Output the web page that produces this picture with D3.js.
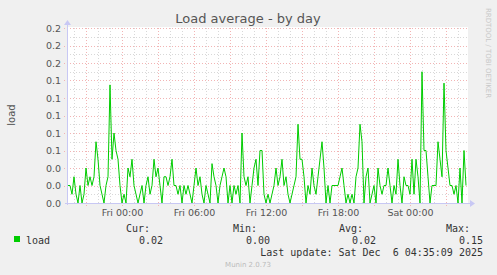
<!DOCTYPE html>
<html>
<head>
<meta charset="utf-8">
<script src="https://cdn.jsdelivr.net/npm/d3@7"></script>
<style>
  body { margin: 0; background: #f0f0f0; }
  svg { display: block; }
  .tick text { font-family: "DejaVu Sans", sans-serif; fill: #555; }
  .mono { font-family: "DejaVu Sans Mono", monospace; font-size: 10px; fill: #333; }
</style>
</head>
<body>
<div id="chart"></div>
<script>
// load average samples, every 10 minutes from Thu 19:30
var startTime = new Date(2025, 11, 4, 19, 30);
var stepMinutes = 10;
var loadValues = [
  0.02, 0.02, 0.01, 0.03, 0.01, 0.00, 0.02, 0.00, 0.01, 0.04,
  0.02, 0.03, 0.02, 0.03, 0.07, 0.05, 0.02, 0.01, 0.00, 0.02,
  0.03, 0.135, 0.05, 0.08, 0.06, 0.05, 0.02, 0.00, 0.01, 0.00,
  0.04, 0.03, 0.05, 0.02, 0.01, 0.00, 0.01, 0.02, 0.00, 0.02,
  0.03, 0.01, 0.02, 0.05, 0.03, 0.04, 0.02, 0.00, 0.03, 0.03,
  0.02, 0.03, 0.05, 0.02, 0.02, 0.01, 0.02, 0.00, 0.02, 0.01,
  0.02, 0.01, 0.00, 0.02, 0.04, 0.02, 0.03, 0.01, 0.00, 0.02,
  0.01, 0.00, 0.045, 0.03, 0.02, 0.00, 0.02, 0.03, 0.04, 0.03,
  0.00, 0.02, 0.00, 0.02, 0.01, 0.02, 0.00, 0.08, 0.03, 0.02,
  0.03, 0.00, 0.02, 0.04, 0.05, 0.02, 0.06, 0.06, 0.01, 0.00,
  0.01, 0.00, 0.01, 0.02, 0.04, 0.02, 0.03, 0.05, 0.02, 0.03,
  0.01, 0.00, 0.01, 0.02, 0.03, 0.09, 0.05, 0.05, 0.03, 0.00,
  0.02, 0.01, 0.04, 0.02, 0.01, 0.03, 0.05, 0.07, 0.04, 0.00,
  0.02, 0.00, 0.02, 0.02, 0.02, 0.02, 0.03, 0.04, 0.02, 0.00,
  0.01, 0.00, 0.01, 0.00, 0.03, 0.04, 0.09, 0.07, 0.00, 0.03,
  0.04, 0.00, 0.01, 0.02, 0.00, 0.04, 0.02, 0.01, 0.02, 0.02,
  0.04, 0.02, 0.00, 0.02, 0.01, 0.05, 0.02, 0.00, 0.03, 0.02,
  0.02, 0.01, 0.05, 0.01, 0.05, 0.03, 0.00, 0.15, 0.06, 0.06,
  0.03, 0.00, 0.02, 0.02, 0.02, 0.07, 0.05, 0.03, 0.137, 0.06,
  0.04, 0.02, 0.02, 0.01, 0.02, 0.00, 0.04, 0.00, 0.06, 0.02
];
var viewStart = new Date(2025, 11, 4, 19, 25);
var viewEnd = new Date(2025, 11, 6, 4, 45);
var yMax = 0.2;
var xTickTimes = [
  new Date(2025, 11, 5, 0, 0), new Date(2025, 11, 5, 6, 0),
  new Date(2025, 11, 5, 12, 0), new Date(2025, 11, 5, 18, 0),
  new Date(2025, 11, 6, 0, 0)
];
var legendNames = ["Cur:", "Min:", "Avg:", "Max:"];
var legendValues = ["0.02", "0.00", "0.02", "0.15"];
var lastUpdate = "Last update: Sat Dec  6 04:35:09 2025";

var width = 497, height = 275;
var plotL = 67, plotR = 467, plotT = 28, plotB = 203;

var data = loadValues.map(function (v, i) {
  return { t: new Date(startTime.getTime() + i * stepMinutes * 60000), v: v };
});

var svg = d3.select("#chart").append("svg")
  .attr("width", width).attr("height", height);

var x = d3.scaleTime().domain([viewStart, viewEnd]).range([plotL, plotR]);
var y = d3.scaleLinear().domain([0, yMax]).range([plotB, plotT]);

// canvas
svg.append("rect")
  .attr("x", plotL).attr("y", plotT - 1)
  .attr("width", plotR - plotL + 1).attr("height", plotB - plotT + 1)
  .attr("fill", "#fff");

// minor grid
var minorY = d3.range(0.01, yMax, 0.02);
var minorX = d3.timeHour.range(viewStart, viewEnd).filter(function (d) {
  return d.getHours() % 3 !== 0;
});
var grid = svg.append("g").attr("shape-rendering", "crispEdges");
grid.selectAll(".hminor").data(minorY).enter().append("line")
  .attr("x1", plotL).attr("x2", plotR + 1)
  .attr("y1", function (d) { return Math.round(y(d)) + 0.5; })
  .attr("y2", function (d) { return Math.round(y(d)) + 0.5; })
  .attr("stroke", "#d8d8d8").attr("stroke-dasharray", "1,2");
grid.selectAll(".vminor").data(minorX).enter().append("line")
  .attr("y1", plotT).attr("y2", plotB)
  .attr("x1", function (d) { return Math.round(x(d)) + 0.5; })
  .attr("x2", function (d) { return Math.round(x(d)) + 0.5; })
  .attr("stroke", "#d8d8d8").attr("stroke-dasharray", "1,2");

// major grid
var majorY = d3.range(0, yMax + 0.001, 0.02);
var majorX = d3.timeHour.range(viewStart, viewEnd).filter(function (d) {
  return d.getHours() % 3 === 0;
});
grid.selectAll(".hmajor").data(majorY.slice(1)).enter().append("line")
  .attr("x1", plotL - 3).attr("x2", plotR + 1)
  .attr("y1", function (d) { return Math.round(y(d)) + 0.5; })
  .attr("y2", function (d) { return Math.round(y(d)) + 0.5; })
  .attr("stroke", "#f2b4b4").attr("stroke-dasharray", "1,2");
grid.selectAll(".vmajor").data(majorX).enter().append("line")
  .attr("y1", plotT).attr("y2", plotB + 3)
  .attr("x1", function (d) { return Math.round(x(d)) + 0.5; })
  .attr("x2", function (d) { return Math.round(x(d)) + 0.5; })
  .attr("stroke", "#f2b4b4").attr("stroke-dasharray", "1,2");

// axes labels
var yAxis = d3.axisLeft(y).tickValues(majorY).tickFormat(d3.format(".1f"))
  .tickSize(0).tickPadding(6);
var gy = svg.append("g").attr("transform", "translate(" + plotL + ",0)").call(yAxis);
gy.select(".domain").remove();
gy.selectAll("text").attr("font-size", "9.5px").attr("fill", "#555");

var xAxis = d3.axisBottom(x).tickValues(xTickTimes)
  .tickFormat(d3.timeFormat("%a %H:%M")).tickSize(0).tickPadding(6);
var gx = svg.append("g").attr("transform", "translate(0," + plotB + ")").call(xAxis);
gx.select(".domain").remove();
gx.selectAll("text").attr("font-size", "9.5px").attr("fill", "#555");

// axis lines and arrows
var axisColor = "#c8c8f4";
svg.append("line").attr("x1", plotL - 2).attr("x2", plotR + 4)
  .attr("y1", plotB + 0.5).attr("y2", plotB + 0.5)
  .attr("stroke", axisColor);
svg.append("line").attr("x1", plotL + 0.5).attr("x2", plotL + 0.5)
  .attr("y1", plotB + 2).attr("y2", plotT - 4)
  .attr("stroke", axisColor);
svg.append("path")
  .attr("d", "M" + (plotR + 3) + "," + (plotB - 3) + "L" + (plotR + 8) + "," + (plotB + 0.5) + "L" + (plotR + 3) + "," + (plotB + 4) + "Z")
  .attr("fill", axisColor);
svg.append("path")
  .attr("d", "M" + (plotL - 3) + "," + (plotT - 3) + "L" + (plotL + 0.5) + "," + (plotT - 8) + "L" + (plotL + 4) + "," + (plotT - 3) + "Z")
  .attr("fill", axisColor);

// series
var line = d3.line()
  .x(function (d) { return x(d.t); })
  .y(function (d) { return y(d.v); });
svg.append("path").datum(data)
  .attr("d", line)
  .attr("fill", "none")
  .attr("stroke", "#00cc00")
  .attr("stroke-width", 1);

// title and side texts
svg.append("text").attr("x", 248).attr("y", 23)
  .attr("text-anchor", "middle")
  .attr("font-family", "DejaVu Sans, sans-serif").attr("font-size", "13px")
  .attr("fill", "#555").text("Load average - by day");

svg.append("text")
  .attr("transform", "translate(15,115) rotate(-90)")
  .attr("text-anchor", "middle")
  .attr("font-family", "DejaVu Sans, sans-serif").attr("font-size", "10px")
  .attr("fill", "#555").text("load");

svg.append("text")
  .attr("transform", "translate(486,53) rotate(90)")
  .attr("text-anchor", "middle")
  .attr("font-family", "DejaVu Sans, sans-serif").attr("font-size", "7px")
  .attr("fill", "#c8c8c8").text("RRDTOOL / TOBI OETIKER");

// legend
var legendX = [150, 257, 363, 470];
legendNames.forEach(function (n, i) {
  svg.append("text").attr("class", "mono").attr("x", legendX[i]).attr("y", 232)
    .attr("text-anchor", "end").text(n);
});
legendValues.forEach(function (v, i) {
  svg.append("text").attr("class", "mono").attr("x", legendX[i] + 13).attr("y", 244)
    .attr("text-anchor", "end").text(v);
});
svg.append("rect").attr("x", 14).attr("y", 236).attr("width", 6).attr("height", 6)
  .attr("fill", "#00cc00");
svg.append("text").attr("class", "mono").attr("x", 26).attr("y", 244).text("load");
svg.append("text").attr("class", "mono").attr("x", 483).attr("y", 256)
  .attr("text-anchor", "end").style("white-space", "pre").attr("xml:space", "preserve")
  .text(lastUpdate);
svg.append("text").attr("x", 248).attr("y", 267)
  .attr("text-anchor", "middle")
  .attr("font-family", "DejaVu Sans, sans-serif").attr("font-size", "7px")
  .attr("fill", "#bbb").text("Munin 2.0.73");
</script>
</body>
</html>
